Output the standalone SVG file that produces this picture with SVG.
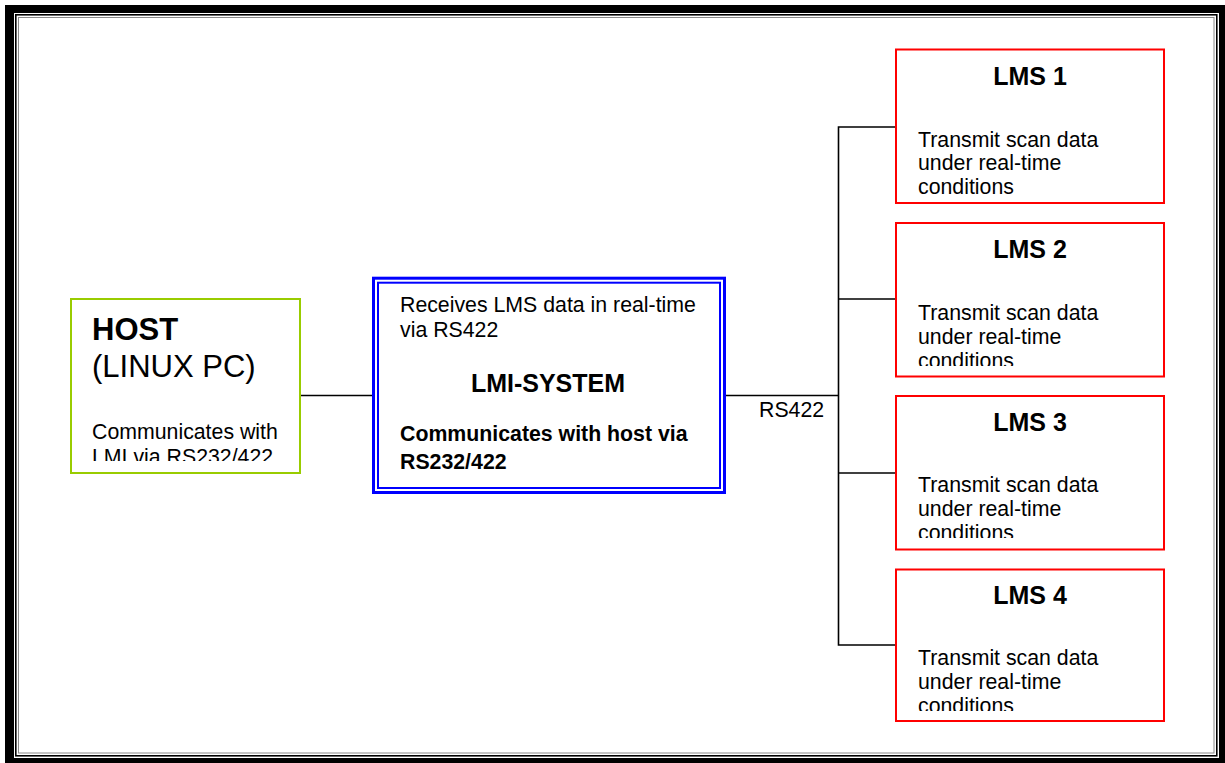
<svg xmlns="http://www.w3.org/2000/svg" width="1225" height="763" viewBox="0 0 1225 763">
  <style>
    text { font-family: "Liberation Sans", Arial, sans-serif; fill: #000; }
    .body { font-size: 21.3px; }
    .bold { font-weight: bold; }
    .title { font-size: 25px; font-weight: bold; }
    .lms { fill: #fff; stroke: #ff0000; stroke-width: 2; }
    .wire { fill: none; stroke: #000; stroke-width: 1.6; }
  </style>
  <defs>
    <clipPath id="clipHost"><rect x="70" y="300" width="230" height="161"/></clipPath>
    <clipPath id="clipLms1"><rect x="896" y="49" width="268" height="146"/></clipPath>
    <clipPath id="clipLms2"><rect x="896" y="222" width="268" height="144"/></clipPath>
    <clipPath id="clipLms3"><rect x="896" y="396" width="268" height="142"/></clipPath>
    <clipPath id="clipLms4"><rect x="896" y="569" width="268" height="142"/></clipPath>
  </defs>

  <!-- page border -->
  <rect x="0" y="0" width="1225" height="763" fill="#fff"/>
  <path d="M5 5 H1225 V763 H5 Z M14 13 V758 H1219 V13 Z" fill="#000" fill-rule="evenodd"/>
  <rect x="15.8" y="14.8" width="1201" height="741" fill="none" stroke="#000" stroke-width="1.6"/>
  <rect x="18.5" y="17.5" width="1195.5" height="735.5" fill="none" stroke="#888" stroke-width="1"/>

  <!-- connectors -->
  <g id="connectors">
    <line class="wire" x1="300" y1="395.5" x2="373" y2="395.5"/>
    <line class="wire" x1="725" y1="395.5" x2="838.5" y2="395.5"/>
    <path class="wire" d="M896 127 H838.5 V645 H896"/>
    <line class="wire" x1="838.5" y1="299" x2="896" y2="299"/>
    <line class="wire" x1="838.5" y1="473" x2="896" y2="473"/>
    <text class="body" x="759" y="416.5">RS422</text>
  </g>

  <!-- host -->
  <g id="host">
    <rect x="71" y="299" width="229" height="174" fill="#fff" stroke="#99cc00" stroke-width="2"/>
    <text x="92" y="340" style="font-size:31px;font-weight:bold">HOST</text>
    <text x="92" y="377" style="font-size:31px">(LINUX PC)</text>
    <g clip-path="url(#clipHost)">
      <text class="body" x="92" y="439">Communicates with</text>
      <text class="body" x="92" y="463.5">LMI via RS232/422</text>
    </g>
  </g>

  <!-- LMI system -->
  <g id="lmi-system">
    <rect x="373.5" y="278.2" width="351" height="214.3" fill="#fff" stroke="#0000ff" stroke-width="3"/>
    <rect x="378" y="282.7" width="342" height="205.3" fill="none" stroke="#0000ff" stroke-width="2"/>
    <text class="body" x="400" y="312">Receives LMS data in real-time</text>
    <text class="body" x="400" y="337">via RS422</text>
    <text class="title" x="548" y="391.5" text-anchor="middle">LMI-SYSTEM</text>
    <text class="body bold" x="400" y="441">Communicates with host via</text>
    <text class="body bold" x="400" y="469">RS232/422</text>
  </g>

  <!-- scanners -->
  <g id="lms1">
    <rect class="lms" x="896" y="49.5" width="268" height="153.5"/>
    <text class="title" x="1030" y="85" text-anchor="middle">LMS 1</text>
    <g clip-path="url(#clipLms1)">
      <text class="body" x="918" y="146.5">Transmit scan data</text>
      <text class="body" x="918" y="170">under real-time</text>
      <text class="body" x="918" y="194">conditions</text>
    </g>
  </g>
  <g id="lms2">
    <rect class="lms" x="896" y="223" width="268" height="153.5"/>
    <text class="title" x="1030" y="258" text-anchor="middle">LMS 2</text>
    <g clip-path="url(#clipLms2)">
      <text class="body" x="918" y="319.5">Transmit scan data</text>
      <text class="body" x="918" y="343.5">under real-time</text>
      <text class="body" x="918" y="367.5">conditions</text>
    </g>
  </g>
  <g id="lms3">
    <rect class="lms" x="896" y="396" width="268" height="153.5"/>
    <text class="title" x="1030" y="431" text-anchor="middle">LMS 3</text>
    <g clip-path="url(#clipLms3)">
      <text class="body" x="918" y="492">Transmit scan data</text>
      <text class="body" x="918" y="516">under real-time</text>
      <text class="body" x="918" y="540">conditions</text>
    </g>
  </g>
  <g id="lms4">
    <rect class="lms" x="896" y="569.5" width="268" height="151.5"/>
    <text class="title" x="1030" y="603.5" text-anchor="middle">LMS 4</text>
    <g clip-path="url(#clipLms4)">
      <text class="body" x="918" y="665">Transmit scan data</text>
      <text class="body" x="918" y="689">under real-time</text>
      <text class="body" x="918" y="713">conditions</text>
    </g>
  </g>
</svg>
